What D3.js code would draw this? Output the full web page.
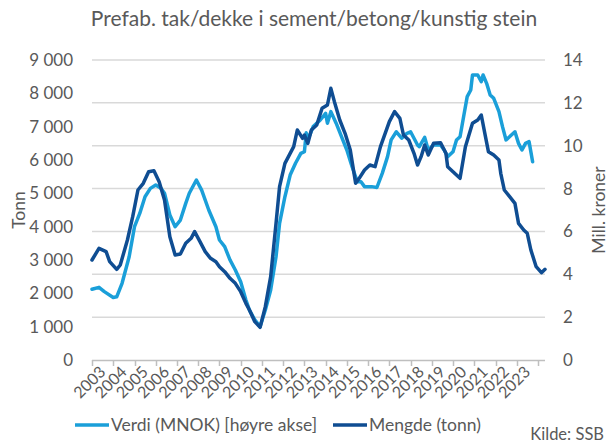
<!DOCTYPE html>
<html>
<head>
<meta charset="utf-8">
<script src="https://cdn.jsdelivr.net/npm/d3@7"></script>
<style>
  body { margin: 0; background: #fff; }
  text { font-family: Lato, "Open Sans", sans-serif; fill: #595959; }
</style>
</head>
<body>
<svg id="chart" width="610" height="443"></svg>
<script>
const title = "Prefab. tak/dekke i sement/betong/kunstig stein";
const leftTicks = [0, 1000, 2000, 3000, 4000, 5000, 6000, 7000, 8000, 9000];
const rightTicks = [0, 2, 4, 6, 8, 10, 12, 14];
const yearLabels = d3.range(2003, 2024);

// Mengde (tonn), venstre akse
const mengde = [
  ["2003-01", 3000], ["2003-05", 3350], ["2003-09", 3250], ["2003-11", 2950], ["2004-03", 2720],
  ["2004-05", 2850], ["2004-09", 3600], ["2004-12", 4300], ["2005-03", 5100], ["2005-06", 5300],
  ["2005-09", 5650], ["2005-12", 5680], ["2006-03", 5350], ["2006-06", 4800], ["2006-09", 3700],
  ["2006-12", 3150], ["2007-03", 3180], ["2007-06", 3500], ["2007-09", 3650], ["2007-11", 3850],
  ["2008-02", 3550], ["2008-05", 3250], ["2008-08", 3050], ["2008-11", 2950], ["2009-01", 2800],
  ["2009-04", 2650], ["2009-07", 2450], ["2009-10", 2300], ["2010-01", 2050], ["2010-04", 1700],
  ["2010-06", 1500], ["2010-09", 1150], ["2010-12", 980], ["2011-03", 1600], ["2011-06", 2500],
  ["2011-09", 4100], ["2011-11", 5200], ["2012-02", 5900], ["2012-05", 6200], ["2012-07", 6400],
  ["2012-09", 6900], ["2012-12", 6650], ["2013-01", 6750], ["2013-03", 6500], ["2013-05", 6900],
  ["2013-08", 7050], ["2013-11", 7550], ["2014-02", 7650], ["2014-04", 8150], ["2014-06", 7750],
  ["2014-09", 7200], ["2014-12", 6800], ["2015-03", 6300], ["2015-06", 5300], ["2015-08", 5450],
  ["2015-11", 5700], ["2016-02", 5850], ["2016-05", 5800], ["2016-08", 6400], ["2016-11", 6850],
  ["2017-01", 7150], ["2017-04", 7450], ["2017-07", 7250], ["2017-09", 6750], ["2017-12", 6600],
  ["2018-03", 6200], ["2018-05", 5850], ["2018-07", 6100], ["2018-09", 6450], ["2018-11", 6150],
  ["2019-02", 6500], ["2019-06", 6520], ["2019-09", 6200], ["2019-10", 5800], ["2020-01", 5650],
  ["2020-03", 5550], ["2020-05", 5450], ["2020-08", 6400], ["2020-10", 6750], ["2020-12", 7100],
  ["2021-03", 7200], ["2021-05", 7350], ["2021-07", 6800], ["2021-09", 6250], ["2021-12", 6150],
  ["2022-03", 6000], ["2022-04", 5600], ["2022-06", 5100], ["2022-09", 4900], ["2022-12", 4700],
  ["2023-02", 4100], ["2023-05", 3900], ["2023-07", 3800], ["2023-09", 3300], ["2023-12", 2800],
  ["2024-03", 2620], ["2024-05", 2720]
];

// Verdi (MNOK), høyre akse
const verdi = [
  ["2003-01", 3.30], ["2003-05", 3.39], ["2003-08", 3.19], ["2004-01", 2.92], ["2004-03", 2.95],
  ["2004-06", 3.58], ["2004-10", 4.82], ["2005-01", 6.22], ["2005-04", 6.84], ["2005-07", 7.62],
  ["2005-10", 8.01], ["2006-01", 8.17], ["2006-04", 8.01], ["2006-06", 7.78], ["2006-09", 6.77],
  ["2006-12", 6.22], ["2007-03", 6.53], ["2007-06", 7.31], ["2007-08", 7.78], ["2007-12", 8.40],
  ["2008-03", 7.93], ["2008-07", 7.00], ["2008-11", 6.22], ["2009-01", 5.60], ["2009-04", 5.29],
  ["2009-07", 4.67], ["2009-10", 4.20], ["2010-01", 3.65], ["2010-04", 2.80], ["2010-06", 2.33],
  ["2010-09", 1.87], ["2010-12", 1.56], ["2011-03", 2.33], ["2011-06", 3.27], ["2011-09", 4.82],
  ["2011-11", 6.38], ["2012-02", 7.62], ["2012-05", 8.63], ["2012-08", 9.18], ["2012-11", 9.64],
  ["2013-01", 9.72], ["2013-02", 10.60], ["2013-03", 10.27], ["2013-06", 10.89], ["2013-10", 11.20],
  ["2014-01", 11.51], ["2014-02", 11.05], ["2014-04", 11.59], ["2014-07", 11.05], ["2014-10", 10.42],
  ["2015-01", 9.80], ["2015-04", 9.02], ["2015-07", 8.32], ["2015-09", 8.32], ["2015-11", 8.09],
  ["2016-03", 8.09], ["2016-06", 8.05], ["2016-09", 8.71], ["2016-12", 9.49], ["2017-02", 10.27],
  ["2017-05", 10.65], ["2017-08", 10.35], ["2017-11", 10.58], ["2018-01", 10.65], ["2018-03", 10.35],
  ["2018-05", 10.03], ["2018-06", 9.96], ["2018-09", 10.39], ["2018-11", 9.80], ["2019-02", 10.03],
  ["2019-06", 10.03], ["2019-08", 9.80], ["2019-10", 9.49], ["2020-01", 9.72], ["2020-03", 10.27],
  ["2020-05", 10.42], ["2020-07", 11.35], ["2020-09", 12.29], ["2020-11", 12.60], ["2020-12", 13.30],
  ["2021-03", 13.30], ["2021-05", 12.99], ["2021-06", 13.30], ["2021-08", 12.91], ["2021-10", 12.37],
  ["2021-12", 12.21], ["2022-03", 11.59], ["2022-05", 10.89], ["2022-07", 10.27], ["2022-10", 10.50],
  ["2022-12", 10.65], ["2023-02", 10.11], ["2023-04", 9.80], ["2023-06", 10.11], ["2023-08", 10.19],
  ["2023-10", 9.25]
];

const lightBlue = "#1a9fd9";
const darkBlue = "#0f4d92";
const fmt = d3.format(",");
const nb = v => fmt(v).replace(/,/g, " ");
const parse = d3.timeParse("%Y-%m");

const svg = d3.select("#chart");
const plot = { left: 92, right: 545, top: 60, bottom: 360 };

const x = d3.scaleTime()
  .domain([new Date(2003, 0, 1), new Date(2024, 4, 1)])
  .range([plot.left, plot.right]);
const yLeft = d3.scaleLinear().domain([0, 9000]).range([plot.bottom, plot.top]);
const yRight = d3.scaleLinear().domain([0, 14]).range([plot.bottom, plot.top]);

// title
svg.append("text")
  .attr("x", 314).attr("y", 26)
  .attr("text-anchor", "middle")
  .attr("font-size", "21px")
  .text(title);

// gridlines follow the right axis
svg.append("g")
  .selectAll("line")
  .data(rightTicks.filter(d => d > 0))
  .join("line")
  .attr("x1", plot.left).attr("x2", plot.right)
  .attr("y1", d => yRight(d)).attr("y2", d => yRight(d))
  .attr("stroke", "#d9d9d9").attr("stroke-width", 1.5);

// left axis labels
svg.append("g")
  .selectAll("text")
  .data(leftTicks)
  .join("text")
  .attr("x", 73).attr("y", d => yLeft(d) + 6)
  .attr("text-anchor", "end")
  .attr("font-size", "17px")
  .text(d => nb(d));

// right axis labels
svg.append("g")
  .selectAll("text")
  .data(rightTicks)
  .join("text")
  .attr("x", 563).attr("y", d => yRight(d) + 6)
  .attr("text-anchor", "start")
  .attr("font-size", "17px")
  .text(d => d);

// axis titles
svg.append("text")
  .attr("transform", "translate(25,210) rotate(-90)")
  .attr("text-anchor", "middle")
  .attr("font-size", "17.5px")
  .text("Tonn");
svg.append("text")
  .attr("transform", "translate(605,210) rotate(-90)")
  .attr("text-anchor", "middle")
  .attr("font-size", "17.5px")
  .text("Mill. kroner");

// x axis line and ticks
svg.append("line")
  .attr("x1", plot.left).attr("x2", plot.right)
  .attr("y1", plot.bottom + 0.5).attr("y2", plot.bottom + 0.5)
  .attr("stroke", "#bfbfbf").attr("stroke-width", 1.5);
svg.append("g")
  .selectAll("line")
  .data(d3.range(2003, 2025))
  .join("line")
  .attr("x1", d => Math.round(x(new Date(d, 0, 1))) + 0.5)
  .attr("x2", d => Math.round(x(new Date(d, 0, 1))) + 0.5)
  .attr("y1", plot.bottom).attr("y2", plot.bottom + 6)
  .attr("stroke", "#bfbfbf").attr("stroke-width", 1.5);

// year labels, rotated
svg.append("g")
  .selectAll("text")
  .data(yearLabels)
  .join("text")
  .attr("transform", d => `translate(${x(new Date(d, 6, 1)) + 4},${plot.bottom + 13}) rotate(-45)`)
  .attr("text-anchor", "end")
  .attr("font-size", "16px")
  .text(d => d);

// lines
const lineLeft = d3.line().x(d => x(parse(d[0]))).y(d => yLeft(d[1]));
const lineRight = d3.line().x(d => x(parse(d[0]))).y(d => yRight(d[1]));

svg.append("path")
  .datum(verdi)
  .attr("d", lineRight)
  .attr("fill", "none")
  .attr("stroke", lightBlue)
  .attr("stroke-width", 3.5)
  .attr("stroke-linejoin", "round")
  .attr("stroke-linecap", "round");

svg.append("path")
  .datum(mengde)
  .attr("d", lineLeft)
  .attr("fill", "none")
  .attr("stroke", darkBlue)
  .attr("stroke-width", 3.5)
  .attr("stroke-linejoin", "round")
  .attr("stroke-linecap", "round");

// legend
const legend = [
  { label: "Verdi (MNOK) [høyre akse]", color: lightBlue, x: 75 },
  { label: "Mengde (tonn)", color: darkBlue, x: 333 }
];
const lg = svg.append("g").selectAll("g").data(legend).join("g")
  .attr("transform", d => `translate(${d.x},425)`);
lg.append("line")
  .attr("x1", 0).attr("x2", 34)
  .attr("stroke", d => d.color).attr("stroke-width", 3.5);
lg.append("text")
  .attr("x", 36).attr("y", 6)
  .attr("font-size", "17.5px")
  .text(d => d.label);

svg.append("text")
  .attr("x", 604).attr("y", 440)
  .attr("text-anchor", "end")
  .attr("font-size", "16.5px")
  .text("Kilde: SSB");
</script>
</body>
</html>
